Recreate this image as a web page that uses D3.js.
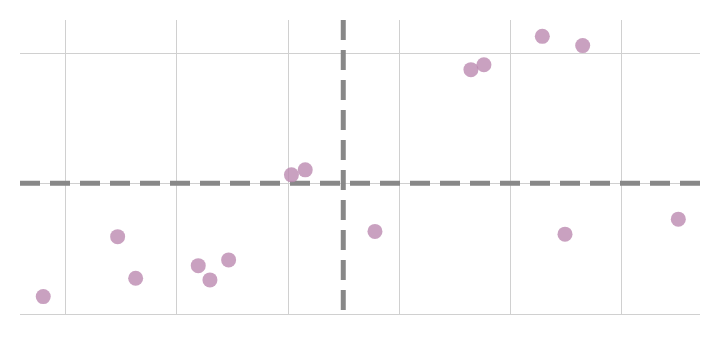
<!DOCTYPE html>
<html>
<head>
<meta charset="utf-8">
<script src="https://cdn.jsdelivr.net/npm/d3@7"></script>
<style>
  html, body { margin: 0; padding: 0; background: #fff; }
  svg { display: block; }
</style>
</head>
<body>
<svg id="chart" width="719" height="343"></svg>
<script>
// Data
const xValues = [-0.198, 0.471, 0.633, 1.196, 1.301, 1.469, 2.034, 2.158, 2.785, 3.648, 3.765, 4.290, 4.653, 4.494, 5.513];
const yValues = [-0.867, -0.408, -0.726, -0.630, -0.739, -0.586, 0.065, 0.103, -0.368, 0.870, 0.908, 1.125, 1.054, -0.389, -0.274];
const xTicks = [0, 1, 2, 3, 4, 5];
const yTicks = [-1, 0, 1];
const xRef = [2.5];
const yRef = [0];

(function () {
const svg = d3.select("#chart");
const mL = 20, mR = 700, mT = 20, mB = 314;

const x = d3.scaleLinear().domain([-0.407, 5.708]).range([mL, mR]);
const y = d3.scaleLinear().domain([-1, 1.25]).range([mB, mT]);

// Vertical gridlines
svg.append("g")
  .attr("transform", `translate(0,${mB})`)
  .call(d3.axisBottom(x).tickValues(xTicks).tickSize(-(mB - mT)).tickFormat(""))
  .call(g => g.select(".domain").remove())
  .call(g => g.selectAll("line").attr("stroke", "#d0d0d0").attr("shape-rendering", "crispEdges"));

// Horizontal gridlines
svg.append("g")
  .attr("transform", `translate(${mL},0)`)
  .call(d3.axisLeft(y).tickValues(yTicks).tickSize(-(mR - mL)).tickFormat(""))
  .call(g => g.select(".domain").remove())
  .call(g => g.selectAll("line").attr("stroke", "#d0d0d0").attr("shape-rendering", "crispEdges"));

// Reference dashed lines
svg.selectAll(".hline").data(yRef).join("line")
  .attr("class", "hline")
  .attr("x1", mL).attr("x2", mR)
  .attr("y1", d => y(d)).attr("y2", d => y(d))
  .attr("stroke", "#888").attr("stroke-width", 5)
  .attr("stroke-dasharray", "20,10");

svg.selectAll(".vline").data(xRef).join("line")
  .attr("class", "vline")
  .attr("x1", d => x(d)).attr("x2", d => x(d))
  .attr("y1", mT).attr("y2", mB)
  .attr("stroke", "#888").attr("stroke-width", 5)
  .attr("stroke-dasharray", "20,10");

// Points
const pts = xValues.map((v, i) => ({ x: v, y: yValues[i] }));
svg.selectAll(".pt").data(pts).join("circle")
  .attr("class", "pt")
  .attr("cx", d => x(d.x))
  .attr("cy", d => y(d.y))
  .attr("r", 7.5)
  .attr("fill", "rgb(188,138,176)")
  .attr("fill-opacity", 0.8);
})();
</script>
</body>
</html>
